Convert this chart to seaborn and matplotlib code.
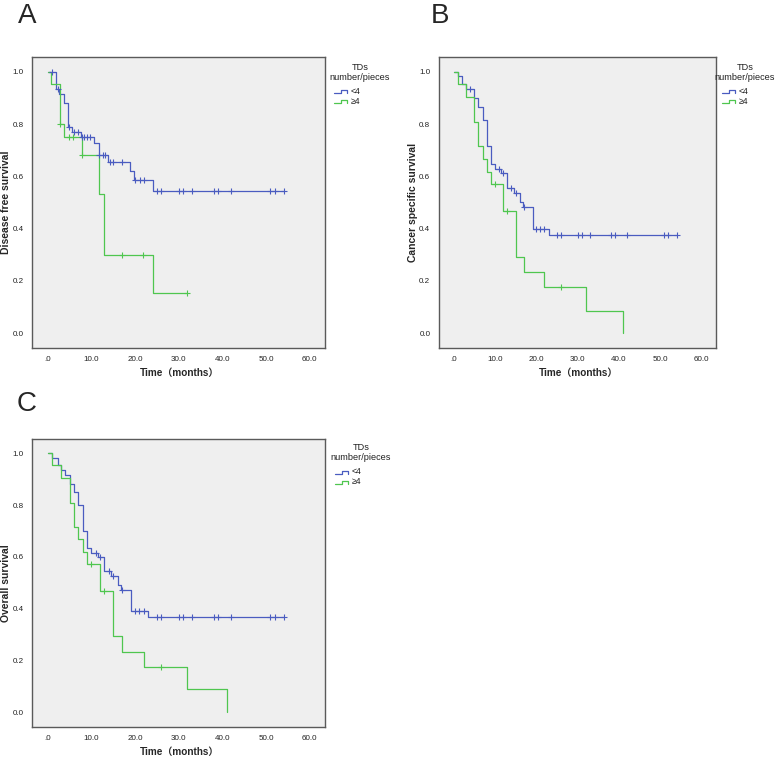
import numpy as np
import pandas as pd
import matplotlib
matplotlib.use("Agg")
import matplotlib.pyplot as plt
import seaborn as sns
from matplotlib.lines import Line2D

# ---------------- data ----------------
group_labels = ["<4", "≥4"]
legend_title = ["TDs", "number/pieces"]
panel_letters = ["A", "B", "C"]
y_labels = ["Disease free survival", "Cancer specific survival", "Overall survival"]
x_label = "Time（months）"
x_ticks = [0, 10, 20, 30, 40, 50, 60]
x_tick_labels = [".0", "10.0", "20.0", "30.0", "40.0", "50.0", "60.0"]
y_ticks = [0.0, 0.2, 0.4, 0.6, 0.8, 1.0]
y_tick_labels = ["0.0", "0.2", "0.4", "0.6", "0.8", "1.0"]

# Panel A: disease free survival
a_lt4_time = [0, 1.8, 2.6, 3.8, 4.7, 5.6, 7.6, 10.7, 11.8, 13.9, 18.9, 19.7, 24.0, 54.0]
a_lt4_surv = [1.0, 0.933, 0.913, 0.879, 0.790, 0.771, 0.751, 0.728, 0.680, 0.654, 0.621, 0.587, 0.544, 0.544]
a_lt4_cens = [0.9, 2.3, 4.8, 6.0, 6.9, 7.9, 8.4, 9.0, 9.7, 11.8, 12.6, 13.2, 14.3, 15.0, 16.9,
              20.1, 21.1, 22.0, 25, 26, 30, 31, 33, 38, 39, 42, 51, 52, 54]
a_ge4_time = [0, 0.7, 2.8, 3.8, 7.8, 11.8, 13.0, 24.0, 32.0]
a_ge4_surv = [1.0, 0.952, 0.800, 0.751, 0.681, 0.531, 0.300, 0.153, 0.153]
a_ge4_cens = [2.8, 4.9, 5.8, 7.8, 16.9, 21.9, 32.0]

# Panel B: cancer specific survival
b_lt4_time = [0, 1.1, 2.0, 3.0, 5.0, 6.0, 7.0, 8.0, 9.0, 10.0, 11.5, 13.0, 14.6, 16.0, 16.9, 19.1, 23.0, 54.0]
b_lt4_surv = [1.0, 0.982, 0.952, 0.933, 0.898, 0.864, 0.815, 0.716, 0.646, 0.629, 0.611, 0.557,
              0.538, 0.500, 0.481, 0.399, 0.376, 0.376]
b_lt4_cens = [4.0, 11.0, 12.0, 14.0, 15.0, 17.0, 20.0, 21.0, 22.0, 25, 26, 30, 31, 33, 38, 39, 42, 51, 52, 54]
b_ge4_time = [0, 1.1, 3.0, 5.0, 6.0, 7.0, 8.0, 9.0, 12.0, 15.0, 17.0, 22.0, 32.0, 41.0]
b_ge4_surv = [1.0, 0.952, 0.904, 0.806, 0.716, 0.666, 0.618, 0.570, 0.468, 0.292, 0.234, 0.176, 0.087, 0.0]
b_ge4_cens = [10.0, 13.0, 26.0]

# Panel C: overall survival
c_lt4_time = [0, 1.0, 2.3, 3.0, 4.0, 5.0, 6.0, 7.0, 8.0, 9.0, 10.0, 11.5, 13.0, 14.5, 16.0, 16.8, 19.0, 23.0, 54.0]
c_lt4_surv = [1.0, 0.982, 0.954, 0.935, 0.918, 0.883, 0.849, 0.800, 0.700, 0.633, 0.616, 0.600,
              0.547, 0.528, 0.491, 0.472, 0.393, 0.368, 0.368]
c_lt4_cens = [11.0, 12.0, 14.0, 15.0, 17.0, 20.0, 21.0, 22.0, 25, 26, 30, 31, 33, 38, 39, 42, 51, 52, 54]
c_ge4_time = [0, 1.0, 3.0, 5.0, 6.0, 7.0, 8.0, 9.0, 12.0, 15.0, 17.0, 22.0, 32.0, 41.0]
c_ge4_surv = [1.0, 0.954, 0.904, 0.810, 0.716, 0.668, 0.618, 0.574, 0.469, 0.294, 0.235, 0.176, 0.090, 0.0]
c_ge4_cens = [10.0, 13.0, 26.0]

# ---------------- style ----------------
sns.set_style("white")
plt.rcParams["font.family"] = ["Liberation Sans", "Noto Sans CJK SC", "DejaVu Sans"]

BLUE = "#4a5cc0"
GREEN = "#4fc64f"
BG = "#efefef"
SPINE = "#5a5a5a"
W, H = 777, 759

fig = plt.figure(figsize=(W / 100, H / 100), dpi=100)


def fx(x):
    return x / W


def fy(y):
    return 1 - y / H


def make_ax(left, top, right, bottom):
    return fig.add_axes([fx(left), fy(bottom), (right - left) / W, (bottom - top) / H])


def step_value(times, surv, t):
    idx = np.searchsorted(np.asarray(times), t, side="right") - 1
    return np.asarray(surv)[idx]


panels = [
    dict(box=(32, 57.3, 325, 347.7), letter_xy=(27, 16), ylab_x=6,
         curves=[(a_lt4_time, a_lt4_surv, a_lt4_cens, BLUE), (a_ge4_time, a_ge4_surv, a_ge4_cens, GREEN)],
         legend=(360, 67), icon_x=334),
    dict(box=(438.7, 57.3, 716, 347.7), letter_xy=(440, 16), ylab_x=413,
         curves=[(b_lt4_time, b_lt4_surv, b_lt4_cens, BLUE), (b_ge4_time, b_ge4_surv, b_ge4_cens, GREEN)],
         legend=(745, 67), icon_x=722),
    dict(box=(32, 439, 325, 726.7), letter_xy=(27, 404), ylab_x=6,
         curves=[(c_lt4_time, c_lt4_surv, c_lt4_cens, BLUE), (c_ge4_time, c_ge4_surv, c_ge4_cens, GREEN)],
         legend=(361, 448), icon_x=335),
]

for i, p in enumerate(panels):
    left, top, right, bottom = p["box"]
    ax = make_ax(left, top, right, bottom)
    ax.set_facecolor(BG)
    for (t, s, c, col), lab in zip(p["curves"], group_labels):
        df = pd.DataFrame({"time": t, "surv": s})
        sns.lineplot(data=df, x="time", y="surv", ax=ax, color=col, linewidth=0.9,
                     drawstyle="steps-post", estimator=None, sort=True)
        cdf = pd.DataFrame({"time": c, "surv": step_value(t, s, c)})
        sns.scatterplot(data=cdf, x="time", y="surv", ax=ax, color=col, marker="+",
                        s=16, linewidth=0.8, zorder=3)
    ax.set_xlim(-3.6, 63.5)
    ax.set_ylim(-0.055, 1.055)
    ax.set_xticks(x_ticks)
    ax.set_xticklabels(x_tick_labels, fontsize=5.8, color="#222222")
    ax.set_yticks(y_ticks)
    ax.set_yticklabels(y_tick_labels, fontsize=5.8, color="#222222")
    ax.tick_params(axis="both", direction="out", length=3, width=0.7, color=SPINE, pad=3)
    for sp in ax.spines.values():
        sp.set_visible(True)
        sp.set_color(SPINE)
        sp.set_linewidth(1.0)
    ax.set_xlabel("")
    ax.set_ylabel("")

    # axis labels
    cx = (left + right) / 2 + 1
    fig.text(fx(cx), fy(bottom + 25), x_label, ha="center", va="center",
             fontsize=7.2, fontweight="bold")
    cy = (top + bottom) / 2
    fig.text(fx(p["ylab_x"]), fy(cy), y_labels[i], ha="center", va="center",
             rotation=90, fontsize=7.5, fontweight="bold")

    # panel letter
    lx, ly = p["letter_xy"]
    fig.text(fx(lx), fy(ly), panel_letters[i], ha="center", va="center", fontsize=20)

    # legend
    gx, gy = p["legend"]
    fig.text(fx(gx), fy(gy), legend_title[0], ha="center", va="center", fontsize=6.6, color="#222222")
    fig.text(fx(gx), fy(gy + 10), legend_title[1], ha="center", va="center", fontsize=6.6, color="#222222")
    ix = p["icon_x"]
    for k, (lab, col) in enumerate(zip(group_labels, [BLUE, GREEN])):
        yy = gy + 24 + 10 * k
        xs = [ix, ix + 7, ix + 7, ix + 13, ix + 13]
        ys = [yy + 1.5, yy + 1.5, yy - 1.5, yy - 1.5, yy + 1.5]
        fig.add_artist(Line2D([fx(v) for v in xs], [fy(v) for v in ys], color=col, linewidth=0.9,
                              transform=fig.transFigure))
        fig.text(fx(ix + 17), fy(yy), lab, ha="left", va="center", fontsize=6.2, color="#222222")

fig.savefig("out.png", dpi=100, facecolor="white")
